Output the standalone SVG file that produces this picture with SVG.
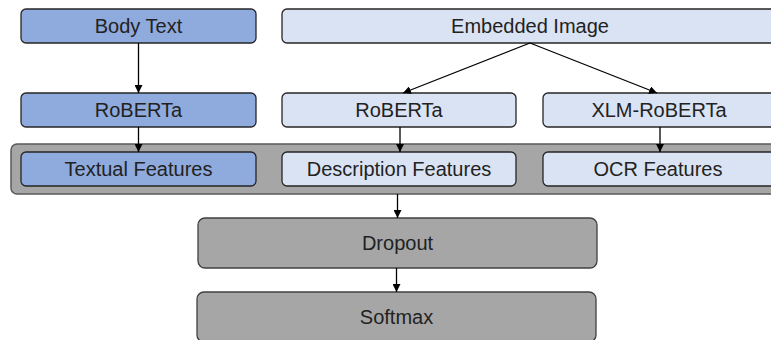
<svg xmlns="http://www.w3.org/2000/svg" width="771" height="340" viewBox="0 0 771 340">
  <defs>
    <marker id="arrow" viewBox="0 0 10 10" refX="10" refY="5" markerWidth="8" markerHeight="8" markerUnits="userSpaceOnUse" orient="auto">
      <path d="M0,0 L10,5 L0,10 z" fill="#000"/>
    </marker>
    <style>
      .box { stroke: #262626; stroke-width: 1.3; }
      .dark { fill: #8FAADC; }
      .light { fill: #DAE3F3; }
      .grey { fill: #A6A6A6; stroke: #404040; }
      .band { fill: #A6A6A6; stroke: #595959; stroke-width: 1.5; }
      .label { font-family: "Liberation Sans", Arial, sans-serif; font-size: 20px; fill: #222; text-anchor: middle; }
      .edge { stroke: #000; stroke-width: 1.3; fill: none; marker-end: url(#arrow); }
    </style>
  </defs>
  <rect width="771" height="340" fill="#fff"/>

  <!-- feature concatenation band -->
  <g id="feature-band">
    <rect class="band" x="11" y="144" width="780" height="50" rx="6"/>
  </g>

  <g id="body-text">
    <rect class="box dark" x="21" y="9" width="235" height="34" rx="5"/>
    <text class="label" x="138.5" y="33">Body Text</text>
  </g>
  <g id="embedded-image">
    <rect class="box light" x="282" y="9" width="496" height="34" rx="5"/>
    <text class="label" x="530" y="33">Embedded Image</text>
  </g>

  <g id="roberta-text">
    <rect class="box dark" x="21" y="93" width="235" height="34" rx="5"/>
    <text class="label" x="138.5" y="117">RoBERTa</text>
  </g>
  <g id="roberta-image">
    <rect class="box light" x="282" y="93" width="234" height="34" rx="5"/>
    <text class="label" x="399" y="117">RoBERTa</text>
  </g>
  <g id="xlm-roberta">
    <rect class="box light" x="543" y="93" width="234" height="34" rx="5"/>
    <text class="label" x="659" y="117">XLM-RoBERTa</text>
  </g>

  <g id="textual-features">
    <rect class="box dark" x="21" y="152" width="235" height="34" rx="5"/>
    <text class="label" x="138.5" y="176">Textual Features</text>
  </g>
  <g id="description-features">
    <rect class="box light" x="282" y="152" width="234" height="34" rx="5"/>
    <text class="label" x="399" y="176">Description Features</text>
  </g>
  <g id="ocr-features">
    <rect class="box light" x="543" y="152" width="234" height="34" rx="5"/>
    <text class="label" x="658" y="176">OCR Features</text>
  </g>

  <g id="dropout">
    <rect class="box grey" x="198" y="218" width="399" height="50" rx="7"/>
    <text class="label" x="397.5" y="250">Dropout</text>
  </g>
  <g id="softmax">
    <rect class="box grey" x="197" y="292" width="399" height="50" rx="7"/>
    <text class="label" x="396.5" y="324">Softmax</text>
  </g>

  <g id="connectors">
    <line class="edge" x1="138.5" y1="43" x2="138.5" y2="93"/>
    <line class="edge" x1="138.5" y1="127" x2="138.5" y2="152"/>
    <line class="edge" x1="530" y1="43" x2="403" y2="93"/>
    <line class="edge" x1="530" y1="43" x2="657" y2="93"/>
    <line class="edge" x1="400" y1="127" x2="400" y2="152"/>
    <line class="edge" x1="660" y1="127" x2="660" y2="152"/>
    <line class="edge" x1="397.5" y1="194" x2="397.5" y2="218"/>
    <line class="edge" x1="396.5" y1="268" x2="396.5" y2="292"/>
  </g>
</svg>
